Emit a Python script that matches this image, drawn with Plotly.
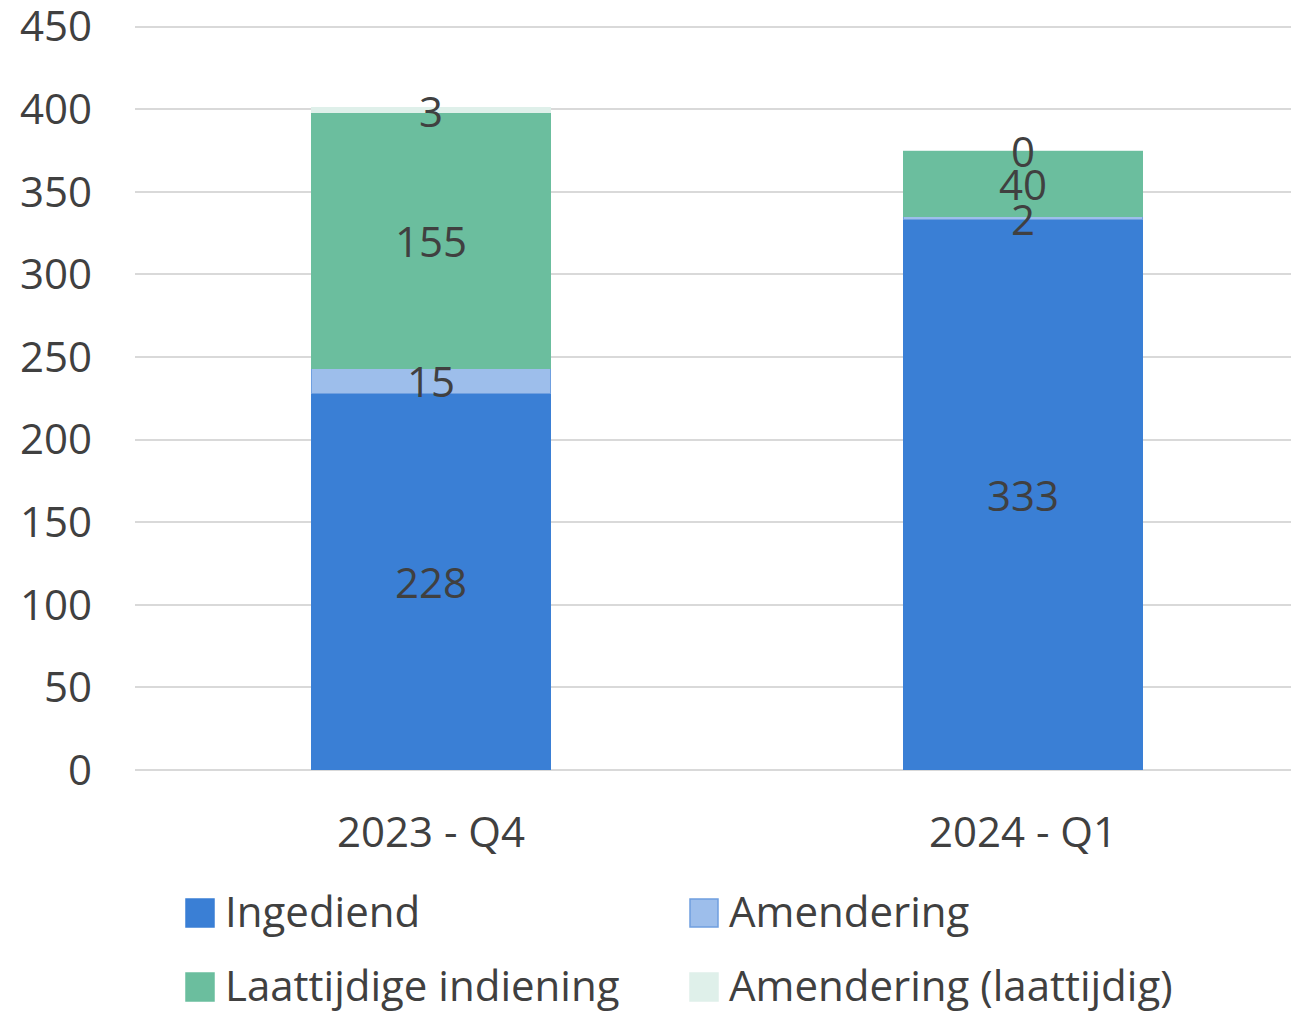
import plotly.graph_objects as go

categories = ["2023 - Q4", "2024 - Q1"]
series_names = ["Ingediend", "Amendering", "Laattijdige indiening", "Amendering (laattijdig)"]
ingediend = [228, 333]
amendering = [15, 2]
laattijdig = [155, 40]
amendering_laat = [3, 0]
y_ticks = [0, 50, 100, 150, 200, 250, 300, 350, 400, 450]

series_values = [ingediend, amendering, laattijdig, amendering_laat]
colors = ["#3A7FD5", "#9DBEEB", "#6BBE9E", "#DFF0EA"]
line_colors = ["#3A7FD5", "#6F9FE0", "#6BBE9E", "#DFF0EA"]

FONT = "Open Sans, Liberation Sans, sans-serif"
TXT = "#404040"
FS = 42

W, H = 1311, 1011
OFF = 8  # page body offset
ML, MR, MT, MB = 127, 0, 17, 249

fig = go.Figure()
for name, vals, c, lc in zip(series_names, series_values, colors, line_colors):
    fig.add_trace(go.Bar(
        x=categories, y=vals, name=name, showlegend=False,
        marker=dict(color=c, line=dict(color=lc, width=1)),
    ))

# data labels centred in each segment, computed from the data
annotations = []
for i, cat in enumerate(categories):
    base = 0
    for vals in series_values:
        v = vals[i]
        annotations.append(dict(
            x=cat, y=base + v / 2, xref="x", yref="y", text=str(v),
            showarrow=False, font=dict(family=FONT, size=FS, color=TXT),
        ))
        base += v

# manual legend (layout decoration), positions in page pixels
plot_x0, plot_x1 = OFF + ML, OFF + W - MR
plot_y0, plot_y1 = OFF + MT, OFF + H - MB


def px_x(p):
    return (p - plot_x0) / (plot_x1 - plot_x0)


def px_y(p):
    return (plot_y1 - p) / (plot_y1 - plot_y0)


shapes = []
legend_pos = [(186, 913), (690, 913), (186, 987), (690, 987)]
for (lx, ly), name, c, lc in zip(legend_pos, series_names, colors, line_colors):
    shapes.append(dict(
        type="rect", xref="paper", yref="paper",
        x0=px_x(lx), x1=px_x(lx + 28), y0=px_y(ly + 14), y1=px_y(ly - 14),
        fillcolor=c, line=dict(color=lc, width=1.5),
    ))
    annotations.append(dict(
        x=px_x(lx + 37), y=px_y(ly - 3), xref="paper", yref="paper",
        xanchor="left", yanchor="middle", text=name, showarrow=False,
        font=dict(family=FONT, size=FS, color=TXT),
    ))

fig.update_layout(
    barmode="stack",
    bargap=0.596,
    width=W, height=H, autosize=False,
    margin=dict(l=ML, r=MR, t=MT, b=MB, autoexpand=False),
    paper_bgcolor="white", plot_bgcolor="white",
    font=dict(family=FONT, color=TXT),
    annotations=annotations,
    shapes=shapes,
    showlegend=False,
)
fig.update_yaxes(
    range=[0, 451], tickvals=y_ticks, showgrid=True, gridcolor="#D9D9D9", gridwidth=2,
    zeroline=True, zerolinecolor="#D9D9D9", zerolinewidth=2,
    tickfont=dict(family=FONT, size=FS, color=TXT), ticklabelstandoff=42,
    ticklabeloverflow="allow", showline=False,
)
fig.update_xaxes(
    tickfont=dict(family=FONT, size=FS, color=TXT), ticklabelstandoff=34,
    showline=False,
)
fig.write_html("out.html")
